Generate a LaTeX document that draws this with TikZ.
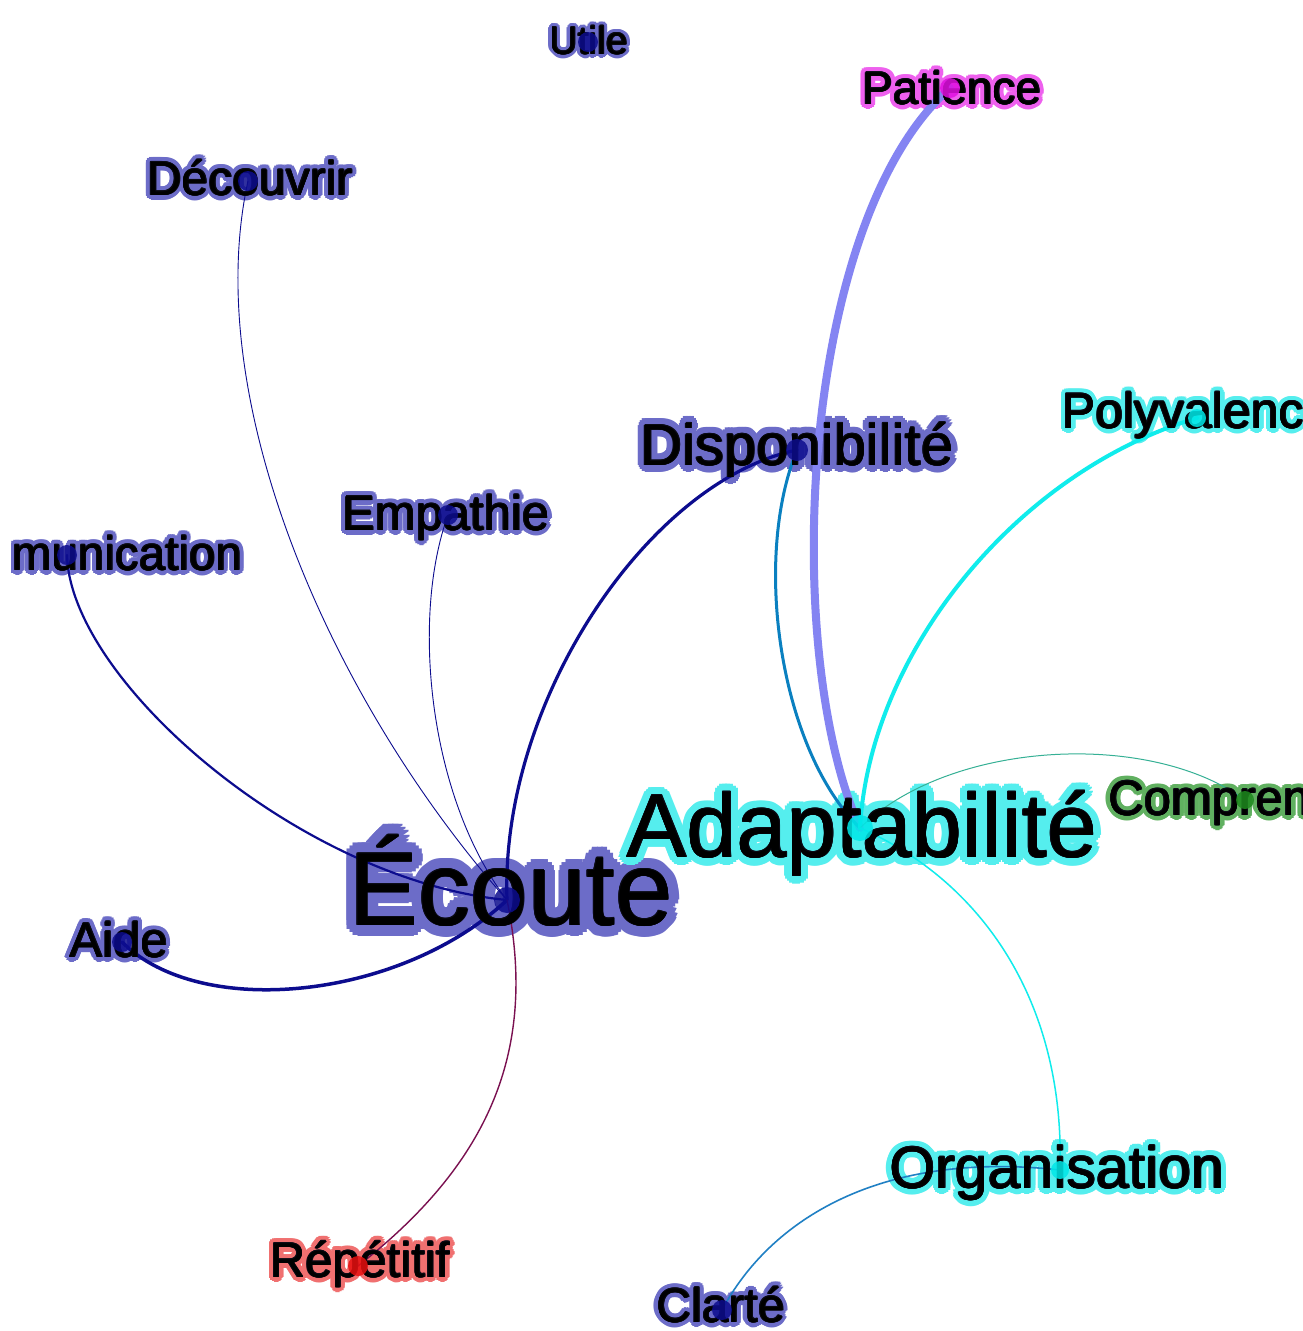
\documentclass[tikz,border=0pt]{standalone}
\usepackage{fontspec}
\setmainfont{Liberation Sans}
\usetikzlibrary{calc}
\definecolor{navy}{HTML}{0C0C8E}
\definecolor{navyhalo}{HTML}{6C6CC8}
\definecolor{cyanhalo}{HTML}{55EEEE}
\definecolor{cyannode}{HTML}{00E8E8}
\definecolor{maghalo}{HTML}{EE60EE}
\definecolor{magnode}{HTML}{E010E0}
\definecolor{greenhalo}{HTML}{60B060}
\definecolor{greennode}{HTML}{1E8A1E}
\definecolor{redhalo}{HTML}{F07070}
\definecolor{rednode}{HTML}{E81010}
\definecolor{lavedge}{HTML}{8484F2}
\definecolor{tealedge}{HTML}{0A80C0}
\definecolor{cyanedge}{HTML}{10ECEC}
\definecolor{greenedge}{HTML}{35B095}
\definecolor{blueedge}{HTML}{2080C4}
\definecolor{maroonedge}{HTML}{7A1050}
\definecolor{inkdark}{HTML}{0A0A14}
\tikzset{
  lbl/.style={anchor=base,inner sep=0pt,outer sep=0pt},
  gdot/.style={circle,inner sep=0pt,minimum size=#1,outer sep=0pt,fill opacity=0.85},
  gedge/.style={line cap=round}
}
% x y size colour radius text
\newcommand\ghalo[6]{%
  \foreach \ang in {0,22.5,...,337.5}{%
    \node[lbl,text=#4,font=\fontsize{#3}{#3}\selectfont] at ($(#1,#2)+(\ang:#5)$) {#6};
    \node[lbl,text=#4,font=\fontsize{#3}{#3}\selectfont] at ($(#1,#2)+(\ang:#5*0.5)$) {#6};
  }}
% name x y size text
\newcommand\gtext[5]{%
  \foreach \ang in {0,45,...,315}{%
    \node[lbl,text=inkdark,font=\fontsize{#4}{#4}\selectfont] at ($(#2,#3)+(\ang:0.7)$) {#5};
  }
  \node[lbl,text=black,font=\fontsize{#4}{#4}\selectfont] (#1) at (#2,#3) {#5};}
\begin{document}
\begin{tikzpicture}[x=1pt,y=-1pt]
\useasboundingbox (0,0) rectangle (1302,1331);
\fill[white] (0,0) rectangle (1302,1331);
\clip (11,0) rectangle (1302,1331);
% node positions
\coordinate (dUtile) at (588,42);
\coordinate (dPatience) at (950,88);
\coordinate (dDecouvrir) at (248,181);
\coordinate (dDispo) at (797,450);
\coordinate (dPoly) at (1197,418);
\coordinate (dComm) at (67,555);
\coordinate (dEmpathie) at (448,515);
\coordinate (dEcoute) at (507,900);
\coordinate (dAdapt) at (860,828);
\coordinate (dCompr) at (1245,800);
\coordinate (dAide) at (122,942);
\coordinate (dOrga) at (1060,1170);
\coordinate (dRepet) at (358,1266);
\coordinate (dClarte) at (722,1310);
% halos
\ghalo{589}{54}{39}{navyhalo}{4}{Utile}
\ghalo{952}{104}{46}{maghalo}{5}{Patience}
\ghalo{250}{195}{48}{navyhalo}{5}{Découvrir}
\ghalo{797}{465}{58}{navyhalo}{7}{Disponibilité}
\ghalo{1197}{428}{50}{cyanhalo}{5}{Polyvalence}
\ghalo{77}{570}{47.6}{navyhalo}{5}{Communication}
\ghalo{446}{530}{49}{navyhalo}{5}{Empathie}
\ghalo{511}{925}{104}{navyhalo}{11}{Écoute}
\ghalo{862}{857}{90}{cyanhalo}{8}{Adaptabilité}
\ghalo{1245}{815}{49}{greenhalo}{5}{Comprendre}
\ghalo{119}{957}{49}{navyhalo}{5}{Aide}
\ghalo{1057}{1188}{59}{cyanhalo}{6}{Organisation}
\ghalo{360}{1277}{49}{redhalo}{5}{Répétitif}
\ghalo{721}{1322}{48}{navyhalo}{5}{Clarté}
% edges
\draw[gedge,navy,line width=0.9pt] (dDecouvrir) .. controls (200,400) and (330,700) .. (dEcoute);
\draw[gedge,navy,line width=0.9pt] (dEmpathie) .. controls (410,620) and (430,800) .. (dEcoute);
\draw[gedge,navy,line width=2.2pt] (dComm) .. controls (70,680) and (300,880) .. (dEcoute);
\draw[gedge,navy,line width=3.5pt] (dAide) .. controls (200,1020) and (400,1000) .. (dEcoute);
\draw[gedge,navy,line width=3.2pt] (dDispo) .. controls (650,480) and (500,700) .. (dEcoute);
\draw[gedge,maroonedge,line width=1.4pt] (dEcoute) .. controls (540,1060) and (480,1170) .. (dRepet);
\draw[gedge,lavedge,line width=8pt] (dPatience) .. controls (800,220) and (780,650) .. (dAdapt);
\draw[gedge,tealedge,line width=3pt] (dDispo) .. controls (752,560) and (780,750) .. (dAdapt);
\draw[gedge,cyanedge,line width=4pt] (dAdapt) .. controls (870,650) and (1020,470) .. (dPoly);
\draw[gedge,greenedge,line width=1pt] (dAdapt) .. controls (950,740) and (1150,730) .. (dCompr);
\draw[gedge,cyanedge,line width=1.5pt] (dAdapt) .. controls (980,880) and (1065,1000) .. (dOrga);
\draw[gedge,blueedge,line width=1.6pt] (dClarte) .. controls (770,1220) and (880,1150) .. (dOrga);
% texts
\gtext{lUtile}{589}{54}{39}{Utile}
\gtext{lPatience}{952}{104}{46}{Patience}
\gtext{lDecouvrir}{250}{195}{48}{Découvrir}
\gtext{lDispo}{797}{465}{58}{Disponibilité}
\gtext{lPoly}{1197}{428}{50}{Polyvalence}
\gtext{lComm}{77}{570}{47.6}{Communication}
\gtext{lEmpathie}{446}{530}{49}{Empathie}
\gtext{lEcoute}{511}{925}{104}{Écoute}
\gtext{lAdapt}{862}{857}{90}{Adaptabilité}
\gtext{lCompr}{1245}{815}{49}{Comprendre}
\gtext{lAide}{119}{957}{49}{Aide}
\gtext{lOrga}{1057}{1188}{59}{Organisation}
\gtext{lRepet}{360}{1277}{49}{Répétitif}
\gtext{lClarte}{721}{1322}{48}{Clarté}
% dots
\node[gdot=20pt,fill=navy] (nUtile) at (dUtile) {};
\node[gdot=20pt,fill=magnode] (nPatience) at (dPatience) {};
\node[gdot=20pt,fill=navy] (nDecouvrir) at (dDecouvrir) {};
\node[gdot=22pt,fill=navy] (nDispo) at (dDispo) {};
\node[gdot=18pt,fill=cyannode] (nPoly) at (dPoly) {};
\node[gdot=20pt,fill=navy] (nComm) at (dComm) {};
\node[gdot=20pt,fill=navy] (nEmpathie) at (dEmpathie) {};
\node[gdot=26pt,fill=navy] (nEcoute) at (dEcoute) {};
\node[gdot=26pt,fill=cyannode] (nAdapt) at (dAdapt) {};
\node[gdot=18pt,fill=greennode] (nCompr) at (dCompr) {};
\node[gdot=20pt,fill=navy] (nAide) at (dAide) {};
\node[gdot=18pt,fill=cyannode] (nOrga) at (dOrga) {};
\node[gdot=20pt,fill=rednode] (nRepet) at (dRepet) {};
\node[gdot=20pt,fill=navy] (nClarte) at (dClarte) {};
\end{tikzpicture}
\end{document}
